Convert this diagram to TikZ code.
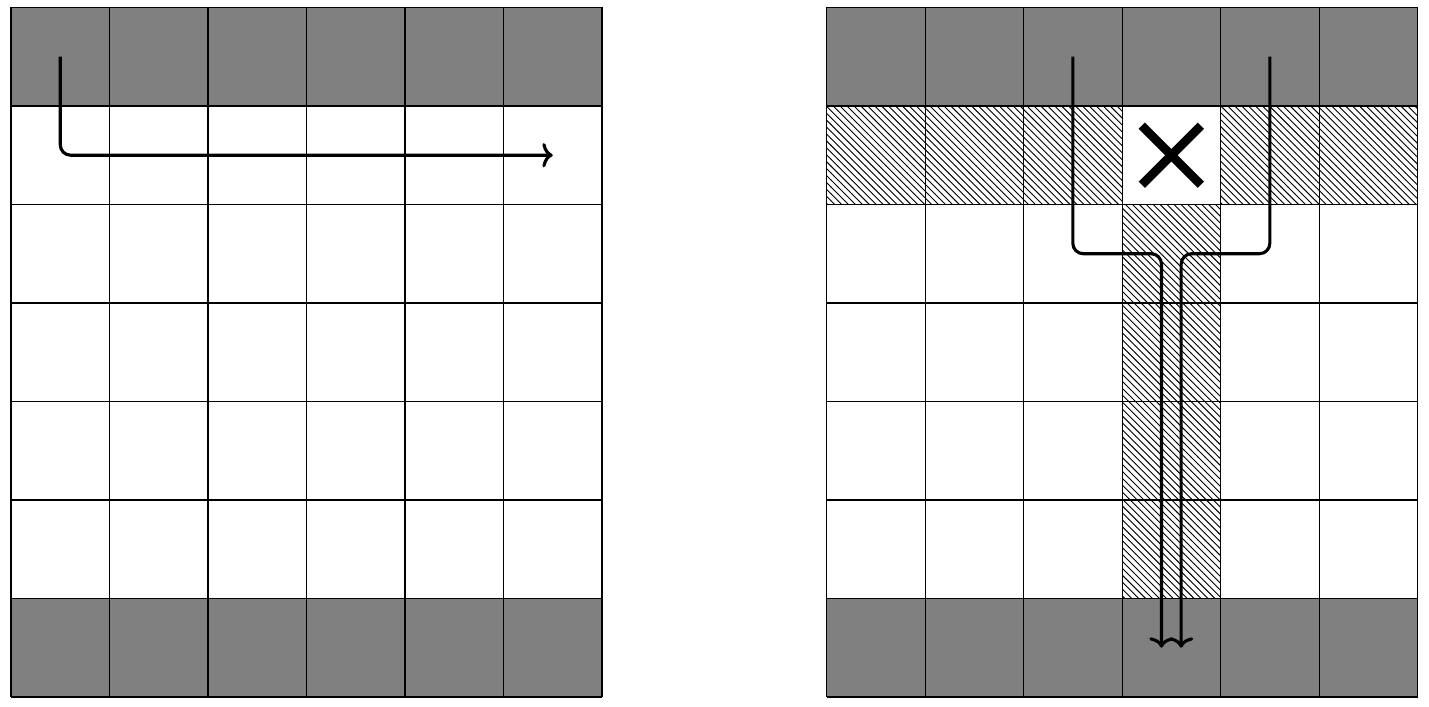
\documentclass[tikz,border=0pt]{standalone}
\usetikzlibrary{patterns,arrows.meta}

\tikzset{
  cell/.style={line width=0.5pt, step=1.5cm},
  blocked/.style={fill=gray},
  hatched/.style={pattern=north west lines},
  route/.style={line width=1.35pt, rounded corners=4.5pt, -{To[length=4.5pt,width=10.5pt]}}
}

\begin{document}
\begin{tikzpicture}[x=1.5cm,y=1.5cm]
  \useasboundingbox (-0.112,-0.092) rectangle (14.396,7.076);

  % left board
  \fill[blocked] (0,0) rectangle (6,1);
  \fill[blocked] (0,6) rectangle (6,7);
  \draw[cell] (0,0) grid (6,7);

  \coordinate (start) at (0.5,6.5);
  \coordinate (goal) at (5.5,5.5);
  \draw[route] (start) |- (goal);

  % right board
  \begin{scope}[shift={(8.28,0)}]
    \fill[blocked] (0,0) rectangle (6,1);
    \fill[blocked] (0,6) rectangle (6,7);
    \fill[hatched] (0,5) rectangle (3,6);
    \fill[hatched] (4,5) rectangle (6,6);
    \fill[hatched] (3,1) rectangle (4,5);
    \draw[cell] (0,0) grid (6,7);

    % cross on the missing cell
    \draw[line width=3.8pt] (3.2,5.2) -- (3.8,5.8);
    \draw[line width=3.8pt] (3.2,5.8) -- (3.8,5.2);

    \coordinate (startA) at (2.5,6.5);
    \coordinate (goalA) at (3.4,0.5);
    \coordinate (startB) at (4.5,6.5);
    \coordinate (goalB) at (3.6,0.5);
    \draw[route] (startA) |- (3.4,4.5) -- (goalA);
    \draw[route] (startB) |- (3.6,4.5) -- (goalB);
  \end{scope}
\end{tikzpicture}
\end{document}
